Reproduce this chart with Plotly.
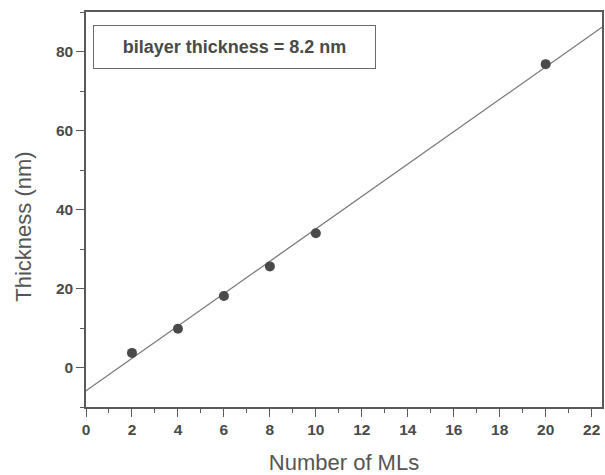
import plotly.graph_objects as go

# Measured film thickness versus number of deposited monolayers
n_layers = [2, 4, 6, 8, 10, 20]
thickness_nm = [3.7, 9.8, 18.1, 25.6, 34.0, 76.8]

# Linear fit: one bilayer = two monolayers
bilayer_nm = 8.2
intercept_nm = -5.9
x_max = 22.45
fit_x = [0, x_max]
fit_y = [intercept_nm + bilayer_nm / 2 * x for x in fit_x]

ink = "#4a4a4a"
axis_col = "#5a5a5a"
sans = "Liberation Sans, Arial, sans-serif"

fig = go.Figure()
fig.add_trace(go.Scatter(
    x=fit_x, y=fit_y, mode="lines",
    line=dict(color="#7a7a7a", width=1.3), hoverinfo="skip", showlegend=False,
))
fig.add_trace(go.Scatter(
    x=n_layers, y=thickness_nm, mode="markers",
    marker=dict(color="#4a4a4a", size=10, line=dict(width=0)), showlegend=False,
))

tick_font = dict(family=sans, size=15.5, color=ink, weight="bold")
title_font = dict(family=sans, size=22, color="#555555")

fig.update_xaxes(
    range=[0, x_max], tickvals=list(range(0, 23, 2)),
    ticks="outside", ticklen=8, tickwidth=1.2, tickcolor=axis_col,
    minor=dict(dtick=1, ticks="outside", ticklen=4, tickwidth=1, tickcolor=axis_col),
    showline=True, linecolor=axis_col, linewidth=1.5, mirror=True,
    showgrid=False, zeroline=False, tickfont=tick_font,
    title=dict(text="Number of MLs", font=title_font, standoff=17),
)
fig.update_yaxes(
    range=[-10, 90], tickvals=[0, 20, 40, 60, 80],
    ticks="outside", ticklen=8, tickwidth=1.2, tickcolor=axis_col,
    minor=dict(dtick=10, ticks="outside", ticklen=4, tickwidth=1, tickcolor=axis_col),
    showline=True, linecolor=axis_col, linewidth=1.5, mirror=True,
    showgrid=False, zeroline=False, tickfont=tick_font,
)

# y-axis title, set a little below the middle of the plot area
fig.add_annotation(
    xref="paper", yref="paper", x=-0.1216, y=0.457,
    xanchor="center", yanchor="middle", textangle=-90,
    text="Thickness (nm)", showarrow=False, font=title_font,
)

fig.add_annotation(
    xref="paper", yref="paper", x=0.287, y=0.911,
    xanchor="center", yanchor="middle",
    text="bilayer thickness = %.1f nm" % bilayer_nm, showarrow=False,
    font=dict(family=sans, size=18, color=ink, weight="bold"),
    bordercolor="#6a6a6a", borderwidth=1, borderpad=0,
    width=281, height=42, bgcolor="white",
)

fig.update_layout(
    width=605, height=475,
    margin=dict(l=86, r=1, t=12, b=68),
    plot_bgcolor="white", paper_bgcolor="white",
)

fig.write_html("out.html")
